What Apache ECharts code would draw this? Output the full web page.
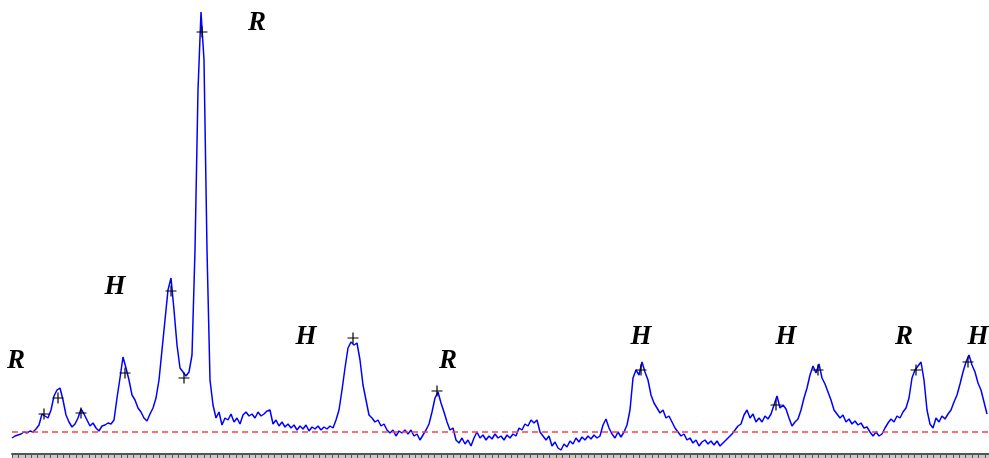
<!DOCTYPE html>
<html>
<head>
<meta charset="utf-8">
<script src="https://cdn.jsdelivr.net/npm/echarts@6/dist/echarts.min.js"></script>
<style>
  html, body { margin: 0; padding: 0; background: #fff; }
  #chart { width: 989px; height: 458px; }
</style>
</head>
<body>
<div id="chart"></div>
<script>
// signal intensity, one sample every 3 channels starting at channel 0
var step = 3;
var signal = [
    16, 18, 19, 20, 22, 21, 23, 22, 25, 29, 40, 38, 36, 44, 58, 64, 66, 54, 39, 32,
    27, 30, 36, 45, 40, 34, 28, 31, 26, 23, 28, 29, 31, 30, 34, 56, 76, 97, 86, 74,
    59, 54, 46, 42, 36, 33, 40, 46, 56, 74, 104, 134, 164, 176, 144, 109, 86, 82, 78, 82,
    99, 204, 364, 442, 394, 204, 74, 49, 36, 42, 29, 36, 34, 40, 32, 36, 30, 39, 42, 38,
    40, 36, 42, 38, 40, 43, 44, 30, 34, 28, 32, 27, 30, 26, 29, 24, 28, 25, 29, 23,
    27, 25, 28, 24, 27, 25, 28, 26, 34, 44, 64, 86, 106, 112, 109, 111, 94, 69, 54, 39,
    36, 32, 34, 28, 30, 24, 21, 24, 18, 23, 21, 24, 20, 24, 18, 20, 14, 19, 24, 30,
    42, 56, 62, 51, 42, 32, 24, 26, 14, 11, 16, 10, 14, 8, 16, 22, 16, 19, 14, 18,
    15, 20, 16, 18, 14, 19, 16, 20, 18, 26, 24, 30, 28, 34, 31, 34, 22, 18, 14, 18,
    8, 12, 6, 4, 10, 7, 13, 10, 16, 12, 17, 14, 18, 15, 19, 16, 18, 29, 35, 26,
    20, 16, 22, 17, 22, 29, 44, 76, 84, 79, 92, 82, 74, 59, 51, 46, 41, 44, 36, 38,
    32, 26, 22, 18, 20, 14, 16, 11, 14, 8, 12, 14, 10, 13, 9, 13, 8, 11, 14, 17,
    20, 24, 28, 30, 39, 44, 36, 40, 32, 36, 32, 38, 35, 40, 49, 58, 46, 49, 45, 36,
    28, 32, 35, 44, 56, 66, 79, 88, 81, 90, 76, 70, 62, 54, 44, 40, 36, 39, 32, 35,
    30, 33, 29, 31, 26, 27, 22, 18, 22, 18, 20, 26, 31, 35, 32, 38, 36, 42, 46, 56,
    76, 84, 88, 92, 74, 44, 30, 26, 36, 32, 38, 35, 40, 44, 52, 59, 70, 82, 92, 99,
    89, 82, 71, 64, 52, 40
];
var baseline = 22;
// peak markers (channel, intensity)
var peakX = [32, 46, 69, 113, 159, 172, 190, 341, 425, 629, 764, 806, 904, 956];
var peakY = [40, 56, 41, 81, 163, 76, 422, 116, 63, 84, 49, 84, 84, 92];
// peak labels
var labelText = ['R', 'R', 'H', 'H', 'R', 'H', 'H', 'R', 'H'];
var labelX = [4, 245, 103, 294, 436, 629, 774, 892, 966];
var labelY = [93, 431, 167, 117, 93, 117, 117, 117, 117];

var lineData = signal.map(function (v, i) { return [i * step, v]; });
var peakData = peakX.map(function (x, i) { return [x, peakY[i]]; });
var labelData = labelX.map(function (x, i) { return { value: [x, labelY[i]], name: labelText[i] }; });

var chart = echarts.init(document.getElementById('chart'));
var option = {
    animation: false,
    grid: { left: 12, right: 0, top: 0, bottom: 4 },
    xAxis: {
        type: 'value',
        min: 0,
        max: 977,
        interval: 6.4,
        axisLine: { show: true, lineStyle: { color: '#555', width: 2 } },
        axisTick: { show: true, length: 4, lineStyle: { color: '#555', width: 1 } },
        axisLabel: { show: false },
        splitLine: { show: false }
    },
    yAxis: {
        type: 'value',
        min: 0,
        max: 454,
        show: false
    },
    graphic: [{
        type: 'rect',
        z: -1,
        shape: { x: 12, y: 454, width: 977, height: 4 },
        style: { fill: '#c8c8c8' }
    }],
    series: [
        {
            type: 'line',
            data: lineData,
            showSymbol: false,
            lineStyle: { color: '#0000ff', width: 1.5 },
            markLine: {
                silent: true,
                symbol: 'none',
                label: { show: false },
                lineStyle: { color: '#ff4040', type: [6, 4], width: 1.5 },
                data: [{ yAxis: baseline }]
            },
            z: 2
        },
        {
            type: 'scatter',
            data: peakData,
            symbol: 'path://M0,5H10M5,0V10',
            symbolSize: 11,
            itemStyle: { color: 'none', borderColor: '#000', borderWidth: 1.2, opacity: 1 },
            z: 3
        },
        {
            type: 'scatter',
            data: labelData,
            symbolSize: 0,
            itemStyle: { opacity: 1 },
            label: {
                show: true,
                position: 'inside',
                formatter: '{b}',
                fontFamily: 'Liberation Serif',
                fontStyle: 'italic',
                fontWeight: 'bold',
                fontSize: 27,
                color: '#000',
                opacity: 1
            },
            z: 4
        }
    ]
};
chart.setOption(option);
</script>
</body>
</html>
